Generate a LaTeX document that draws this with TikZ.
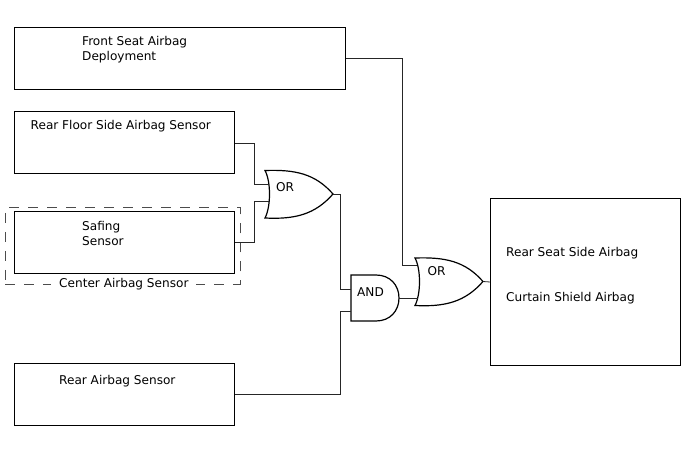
\documentclass[tikz,border=0pt]{standalone}
\usepackage{fontspec}
\setmainfont{DejaVu Sans}
\tikzset{
  boxnode/.style={draw,line width=1.2pt,fill=white,inner sep=0pt,anchor=north west},
  lbl/.style={inner sep=0pt,anchor=west,align=left,font=\fontsize{12.1}{15}\selectfont},
  wire/.style={line width=0.8pt,black!85},
  gate/.style={draw,line width=1.2pt,fill=white,line join=miter}
}
\newcommand{\orgate}[4]{% name, top-left, port a, port b
  \begin{scope}[shift={#2}]
    \draw[gate] (0,0) .. controls (6,11) and (6,36) .. (0,47.5)
      .. controls (30,49) and (50,44) .. (68,23.5)
      .. controls (50,3) and (30,-1) .. (0,0) -- cycle;
    \coordinate (#1a) at #3;
    \coordinate (#1b) at #4;
    \coordinate (#1o) at (68,23.5);
  \end{scope}}
\begin{document}
\begin{tikzpicture}[x=1pt,y=-1pt]
\useasboundingbox (0,0) rectangle (688,463);
\fill[white] (0,0) rectangle (688,463);
% dashed enclosure
\node[draw,dash pattern=on 10pt off 9pt,line width=0.7pt,black!70,inner sep=0pt,anchor=north west,minimum width=234.5pt,minimum height=76.5pt] (center) at (5,207) {};
% boxes
\node[boxnode,minimum width=330.5pt,minimum height=62pt] (front) at (14.2,26.5) {};
\node[boxnode,minimum width=219.5pt,minimum height=62pt] (floor) at (14.2,111) {};
\node[boxnode,minimum width=219.5pt,minimum height=62pt] (safing) at (14.2,211) {};
\node[boxnode,minimum width=219.5pt,minimum height=62pt] (rear) at (14.2,362.5) {};
\node[boxnode,minimum width=190pt,minimum height=167pt] (out) at (490,197.5) {};
% gates
\orgate{orA}{(265,170.5)}{(3.5,13.5)}{(4,31)}
\orgate{orB}{(415,258)}{(2,7)}{(2.5,40)}
\draw[gate] (351,275) -- (376,275) .. controls (390,275) and (399,285) .. (399,298)
  .. controls (399,311) and (390,321) .. (376,321) -- (351,321) -- cycle;
\coordinate (anda) at (351,289);
\coordinate (andb) at (351,311);
\coordinate (ando) at (399,298);
% connectors
\coordinate (fo) at (front.east|-0,58);
\coordinate (flo) at (floor.east|-0,143);
\coordinate (so) at (safing.east|-0,242);
\coordinate (ro) at (rear.east|-0,394);
\coordinate (outin) at (out.west|-0,282);
\draw[wire] (fo) -- (402,58) |- (orBa);
\draw[wire] (flo) -- (254,143) |- (orAa);
\draw[wire] (so) -- (254,242) |- (orAb);
\draw[wire] (orAo) -- (340,194) |- (anda);
\draw[wire] (ro) -- (340,394) |- (andb);
\draw[wire] (ando) -- (orBb);
\draw[wire] (orBo) -- (outin);
% labels
\node[lbl] (t1) at (82,49.5) {Front Seat Airbag\\Deployment};
\node[lbl] (t2) at (30.5,126.2) {Rear Floor Side Airbag Sensor};
\node[lbl] (t3) at (82,233.2) {Safing\\Sensor};
\node[lbl,fill=white,inner xsep=8pt] (t4) at (51,284.2) {Center Airbag Sensor};
\node[lbl] (t5) at (59,381.2) {Rear Airbag Sensor};
\node[lbl] (t6) at (506,253.2) {Rear Seat Side Airbag};
\node[lbl] (t7) at (506,298.2) {Curtain Shield Airbag};
\node[lbl] (t8) at (276,187) {OR};
\node[lbl] (t9) at (357,292) {AND};
\node[lbl] (t10) at (427.5,271.5) {OR};
\end{tikzpicture}
\end{document}
